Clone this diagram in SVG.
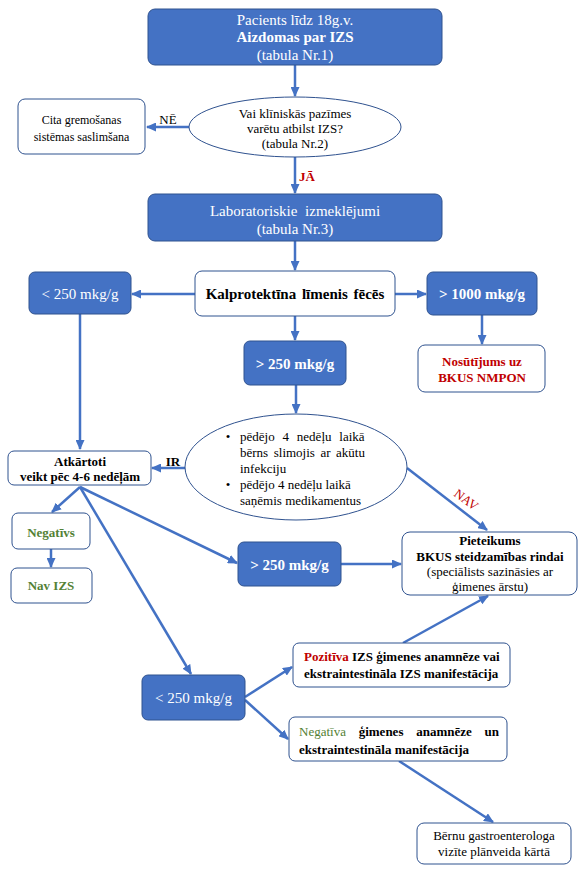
<svg xmlns="http://www.w3.org/2000/svg" width="582" height="872" viewBox="0 0 582 872">
<style>
text{font-family:"Liberation Serif","Times New Roman",serif;font-size:13px;fill:#000000;text-anchor:middle;}
.bf{fill:#4472C4;stroke:#2F528F;stroke-width:1;}
.wf{fill:#ffffff;stroke:#2F528F;stroke-width:1;}
text.w{fill:#ffffff;font-size:15px;}
text.f15{font-size:15px;}
text.f12{font-size:12px;}
text.s{text-anchor:start;}
.b{font-weight:bold;}
.red{fill:#C00000;}
.grn{fill:#538135;}
.n{font-weight:normal;}
.c line{stroke:#4472C4;stroke-width:2.5;marker-end:url(#ah);}
</style>
<defs>
<marker id="ah" markerUnits="userSpaceOnUse" markerWidth="10" markerHeight="9" refX="9" refY="4.5" orient="auto">
<path d="M0,0 L10,4.5 L0,9 z" fill="#4472C4"/>
</marker>
</defs>
<rect width="582" height="872" fill="#ffffff"/>

<g class="c" id="connectors">
<line x1="295" y1="65" x2="295" y2="96"/>
<line x1="189" y1="127" x2="147" y2="127"/>
<line x1="295" y1="157" x2="295" y2="193"/>
<line x1="295" y1="241" x2="295" y2="270"/>
<line x1="195" y1="294" x2="132" y2="294"/>
<line x1="395" y1="294" x2="426" y2="294"/>
<line x1="482" y1="315" x2="482" y2="344"/>
<line x1="295" y1="316" x2="295" y2="340"/>
<line x1="80" y1="314" x2="80" y2="449"/>
<line x1="296" y1="385" x2="296" y2="413"/>
<line x1="185" y1="468" x2="152" y2="468"/>
<line x1="407" y1="468" x2="487" y2="530"/>
<line x1="80" y1="487" x2="52" y2="512"/>
<line x1="51" y1="549" x2="51" y2="567"/>
<line x1="80" y1="487" x2="237" y2="563"/>
<line x1="80" y1="487" x2="191" y2="674"/>
<line x1="341" y1="564" x2="401" y2="564"/>
<line x1="403" y1="643" x2="488" y2="596"/>
<line x1="245" y1="697" x2="292" y2="667"/>
<line x1="245" y1="700" x2="288" y2="739"/>
<line x1="399" y1="761" x2="493" y2="822"/>
<text x="168" y="124">NĒ</text>
<text class="b red" x="307" y="181">JĀ</text>
<text class="b" x="173" y="466">IR</text>
<text class="red" x="466" y="504" transform="rotate(37 466 500)">NAV</text>
</g>

<g id="n-start">
<rect class="bf" x="148" y="9" width="294" height="56" rx="7"/>
<text class="w" x="295" y="25">Pacients līdz 18g.v.</text>
<text class="w b" x="295" y="42">Aizdomas par IZS</text>
<text class="w" x="295" y="60">(tabula Nr.1)</text>
</g>

<g id="n-question">
<ellipse class="wf" cx="295" cy="127" rx="106" ry="30"/>
<text x="295" y="118">Vai klīniskās pazīmes</text>
<text x="295" y="133">varētu atbilst IZS?</text>
<text x="295" y="148">(tabula Nr.2)</text>
</g>

<g id="n-other">
<rect class="wf" x="18" y="99" width="127" height="55" rx="7"/>
<text class="f12" x="81.5" y="124">Cita gremošanas</text>
<text class="f12" x="81.5" y="141">sistēmas saslimšana</text>
</g>

<g id="n-lab">
<rect class="bf" x="148" y="194" width="294" height="47" rx="7"/>
<text class="w" x="295" y="216" word-spacing="4">Laboratoriskie izmeklējumi</text>
<text class="w" x="295" y="234">(tabula Nr.3)</text>
</g>

<g id="n-kalpro">
<rect class="wf" x="195" y="271" width="200" height="45" rx="7"/>
<text class="f15 b" x="295" y="299" word-spacing="2">Kalprotektīna līmenis fēcēs</text>
</g>

<g id="n-lt250a">
<rect class="bf" x="29" y="272" width="102" height="42" rx="6"/>
<text class="w" x="80" y="299">&lt; 250 mkg/g</text>
</g>

<g id="n-gt1000">
<rect class="bf" x="427" y="272" width="110" height="43" rx="6"/>
<text class="w b" x="482" y="299">&gt; 1000 mkg/g</text>
</g>

<g id="n-nmpon">
<rect class="wf" x="418" y="345" width="127" height="47" rx="7"/>
<text class="b red" x="482" y="366">Nosūtījums uz</text>
<text class="b red" x="482" y="382">BKUS NMPON</text>
</g>

<g id="n-gt250a">
<rect class="bf" x="244" y="341" width="102" height="44" rx="6"/>
<text class="w b" x="295" y="369">&gt; 250 mkg/g</text>
</g>

<g id="n-conditions">
<ellipse class="wf" cx="296" cy="467" rx="111" ry="53"/>
<text x="228" y="441">•</text>
<text class="s" x="240" y="441" word-spacing="4.6">pēdējo 4 nedēļu laikā</text>
<text class="s" x="240" y="457" word-spacing="2.3">bērns slimojis ar akūtu</text>
<text class="s" x="240" y="473">infekciju</text>
<text x="228" y="489">•</text>
<text class="s" x="240" y="489">pēdējo 4 nedēļu laikā</text>
<text class="s" x="240" y="505">saņēmis medikamentus</text>
</g>

<g id="n-repeat">
<rect class="wf" x="8" y="451" width="143" height="34" rx="6"/>
<text class="b" x="80" y="466">Atkārtoti</text>
<text class="b" x="80" y="481">veikt pēc 4-6 nedēļām</text>
</g>

<g id="n-negativs">
<rect class="wf" x="12" y="513" width="78" height="36" rx="6"/>
<text class="b grn" x="51" y="537">Negatīvs</text>
</g>

<g id="n-navizs">
<rect class="wf" x="11" y="568" width="81" height="35" rx="6"/>
<text class="b grn" x="51" y="590">Nav IZS</text>
</g>

<g id="n-gt250b">
<rect class="bf" x="238" y="542" width="103" height="44" rx="6"/>
<text class="w b" x="289.5" y="570">&gt; 250 mkg/g</text>
</g>

<g id="n-referral">
<rect class="wf" x="402" y="532" width="175" height="63" rx="8"/>
<text class="b" x="490" y="545">Pieteikums</text>
<text class="b" x="490" y="561">BKUS steidzamības rindai</text>
<text x="490" y="576">(speciālists sazināsies ar</text>
<text x="490" y="591">ģimenes ārstu)</text>
</g>

<g id="n-positive">
<rect class="wf" x="293" y="643" width="217" height="44" rx="6"/>
<text class="s b" x="304" y="661"><tspan class="red">Pozitīva</tspan> IZS ģimenes anamnēze vai</text>
<text class="s b" x="304" y="678">ekstraintestināla IZS manifestācija</text>
</g>

<g id="n-lt250b">
<rect class="bf" x="142" y="675" width="103" height="45" rx="6"/>
<text class="w" x="193.5" y="703">&lt; 250 mkg/g</text>
</g>

<g id="n-negative">
<rect class="wf" x="289" y="717" width="218" height="44" rx="6"/>
<text class="s b" x="299" y="736" word-spacing="9.5"><tspan class="grn n">Negatīva</tspan> ģimenes anamnēze un</text>
<text class="s b" x="299" y="754">ekstraintestināla manifestācija</text>
</g>

<g id="n-planned">
<rect class="wf" x="417" y="823" width="154" height="41" rx="7"/>
<text x="494" y="840">Bērnu gastroenterologa</text>
<text x="494" y="856">vizīte plānveida kārtā</text>
</g>
</svg>
